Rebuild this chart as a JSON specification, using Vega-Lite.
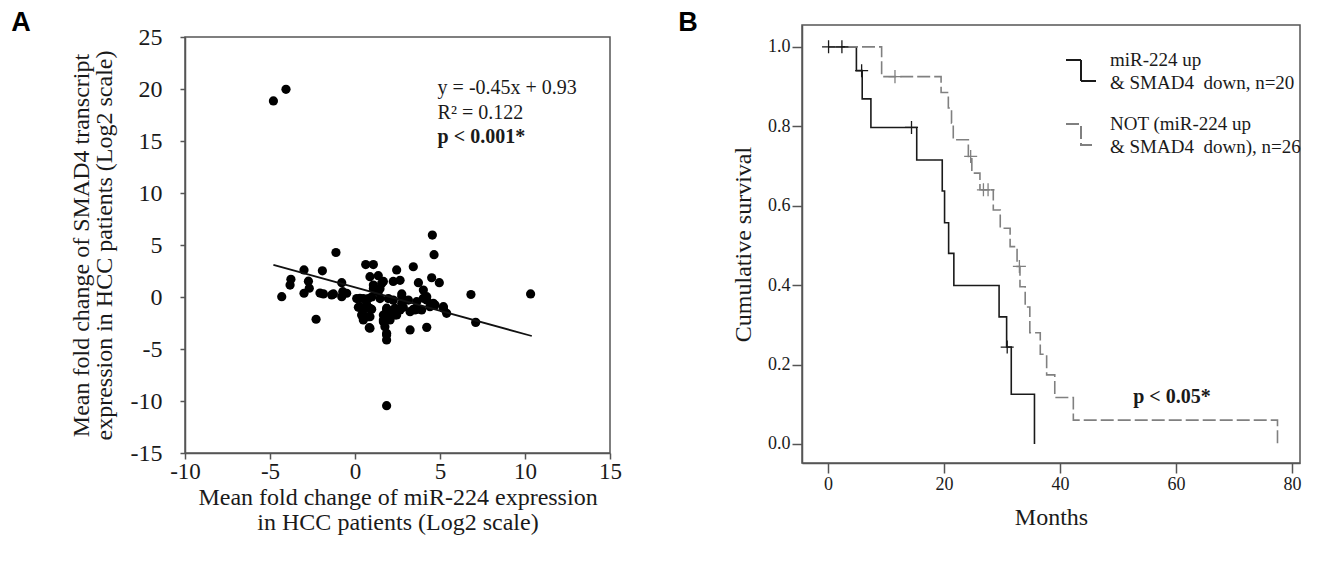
{
  "$schema": "https://vega.github.io/schema/vega-lite/v6.json",
  "background": "white",
  "width": 1318,
  "height": 565,
  "padding": 0,
  "autosize": {"type": "none"},
  "config": {
    "font": "Liberation Serif",
    "view": {"stroke": null},
    "axis": {"grid": false, "labelFlush": false, "domainColor": "#555", "domainWidth": 1.5, "tickColor": "#555", "tickWidth": 1.5, "labelColor": "#1a1a1a", "titleColor": "#1a1a1a", "labelFont": "Liberation Serif", "titleFont": "Liberation Serif", "titleFontWeight": "normal"},
    "style": {"guide-label": {"lineHeight": 23}}
  },
  "datasets": {
    "scatter": [
      {"x": -4.8, "y": 18.85}, {"x": -4.06, "y": 19.97}, {"x": -1.12, "y": 4.28}, {"x": 4.65, "y": 4.07}, {"x": 4.55, "y": 5.96},
      {"x": 0.63, "y": 3.12}, {"x": 1.08, "y": 3.12}, {"x": 3.43, "y": 2.91}, {"x": -3.0, "y": 2.6}, {"x": -1.92, "y": 2.52},
      {"x": 2.45, "y": 2.6}, {"x": -3.77, "y": 1.7}, {"x": -2.74, "y": 1.52}, {"x": 0.88, "y": 1.95}, {"x": 1.37, "y": 2.05},
      {"x": 4.51, "y": 1.85}, {"x": 3.73, "y": 1.38}, {"x": 4.96, "y": 1.38}, {"x": -0.78, "y": 1.38}, {"x": -3.82, "y": 1.15},
      {"x": 1.67, "y": 1.5}, {"x": 2.25, "y": 1.5}, {"x": 2.65, "y": 1.6}, {"x": -2.69, "y": 0.84}, {"x": 4.02, "y": 0.67},
      {"x": 1.08, "y": 1.15}, {"x": 1.57, "y": 1.31}, {"x": 1.08, "y": 0.8}, {"x": 1.47, "y": 0.8}, {"x": -4.31, "y": 0.03},
      {"x": -3.0, "y": 0.36}, {"x": -2.06, "y": 0.38}, {"x": -1.86, "y": 0.3}, {"x": -1.37, "y": 0.2}, {"x": -1.27, "y": 0.29},
      {"x": -0.78, "y": 0.03}, {"x": -0.49, "y": 0.36}, {"x": -0.72, "y": 0.51}, {"x": 2.75, "y": 0.29}, {"x": 4.22, "y": 0.03},
      {"x": 6.82, "y": 0.24}, {"x": 10.33, "y": 0.29}, {"x": 0.1, "y": -0.15}, {"x": 0.49, "y": -0.15}, {"x": 0.78, "y": -0.15},
      {"x": 0.98, "y": 0.0}, {"x": 1.37, "y": 0.51}, {"x": 0.29, "y": -0.13}, {"x": 0.69, "y": -0.29}, {"x": 1.47, "y": -0.15},
      {"x": 1.96, "y": -0.15}, {"x": 2.25, "y": -0.3}, {"x": 2.75, "y": 0.03}, {"x": 2.75, "y": -0.6}, {"x": 3.14, "y": -0.29},
      {"x": 3.63, "y": -0.45}, {"x": 4.02, "y": -0.13}, {"x": 4.22, "y": -0.29}, {"x": 4.61, "y": -0.6}, {"x": 0.29, "y": -0.93},
      {"x": 0.2, "y": -0.99}, {"x": 0.69, "y": -0.77}, {"x": 0.49, "y": -1.25}, {"x": 0.88, "y": -1.09}, {"x": 0.98, "y": -1.18},
      {"x": 4.71, "y": -0.77}, {"x": 5.2, "y": -0.93}, {"x": 5.2, "y": -1.08}, {"x": 5.39, "y": -1.57}, {"x": 1.86, "y": -1.08},
      {"x": 1.86, "y": -1.25}, {"x": 2.25, "y": -1.25}, {"x": 2.35, "y": -1.09}, {"x": 2.65, "y": -1.25}, {"x": 2.84, "y": -0.99},
      {"x": 3.24, "y": -1.41}, {"x": 3.43, "y": -1.18}, {"x": 3.53, "y": -1.25}, {"x": 3.82, "y": -1.18}, {"x": 3.92, "y": -1.25},
      {"x": 4.41, "y": -0.93}, {"x": 0.39, "y": -1.73}, {"x": 0.78, "y": -1.89}, {"x": 0.49, "y": -2.05}, {"x": 0.88, "y": -1.89},
      {"x": 1.67, "y": -1.73}, {"x": 1.96, "y": -1.89}, {"x": 2.06, "y": -1.89}, {"x": 2.35, "y": -1.73}, {"x": 2.45, "y": -1.73},
      {"x": -2.29, "y": -2.14}, {"x": 0.49, "y": -2.21}, {"x": 1.67, "y": -2.21}, {"x": 1.67, "y": -2.38}, {"x": 2.06, "y": -2.21},
      {"x": 7.1, "y": -2.44}, {"x": 0.84, "y": -2.95}, {"x": 0.88, "y": -3.0}, {"x": 1.76, "y": -2.86}, {"x": 3.24, "y": -3.17},
      {"x": 4.22, "y": -2.92}, {"x": 1.86, "y": -3.49}, {"x": 1.86, "y": -3.65}, {"x": 1.86, "y": -4.13}, {"x": 1.86, "y": -10.45}
    ],
    "fit": [{"x": -4.8, "y": 3.09}, {"x": 10.4, "y": -3.75}],
    "notes": [
      {"x": 4.86, "y": 20.1, "label": "y = -0.45x + 0.93", "kind": "plain"},
      {"x": 4.86, "y": 17.7, "label": "R² = 0.122", "kind": "plain"},
      {"x": 4.86, "y": 15.4, "label": "p < 0.001*", "kind": "bold"}
    ],
    "km": [
      {"g": "A", "t": 0, "s": 1.0}, {"g": "A", "t": 4.9, "s": 0.94}, {"g": "A", "t": 5.9, "s": 0.869}, {"g": "A", "t": 7.4, "s": 0.797},
      {"g": "A", "t": 15.3, "s": 0.715}, {"g": "A", "t": 19.7, "s": 0.637}, {"g": "A", "t": 20.1, "s": 0.557}, {"g": "A", "t": 20.8, "s": 0.48},
      {"g": "A", "t": 21.7, "s": 0.399}, {"g": "A", "t": 29.5, "s": 0.32}, {"g": "A", "t": 30.8, "s": 0.244}, {"g": "A", "t": 31.6, "s": 0.125},
      {"g": "A", "t": 35.6, "s": 0.0},
      {"g": "B", "t": 0, "s": 1.0}, {"g": "B", "t": 9.25, "s": 0.925}, {"g": "B", "t": 19.5, "s": 0.885}, {"g": "B", "t": 20.75, "s": 0.846},
      {"g": "B", "t": 21.3, "s": 0.808}, {"g": "B", "t": 21.6, "s": 0.766}, {"g": "B", "t": 24.2, "s": 0.724}, {"g": "B", "t": 24.8, "s": 0.682},
      {"g": "B", "t": 26.2, "s": 0.64}, {"g": "B", "t": 28.5, "s": 0.589}, {"g": "B", "t": 29.7, "s": 0.543}, {"g": "B", "t": 31.4, "s": 0.497},
      {"g": "B", "t": 32.6, "s": 0.447}, {"g": "B", "t": 33.1, "s": 0.396}, {"g": "B", "t": 34.0, "s": 0.345}, {"g": "B", "t": 34.8, "s": 0.28},
      {"g": "B", "t": 36.6, "s": 0.226}, {"g": "B", "t": 37.7, "s": 0.174}, {"g": "B", "t": 39.1, "s": 0.117}, {"g": "B", "t": 42.3, "s": 0.06},
      {"g": "B", "t": 77.5, "s": 0.0}
    ],
    "censor": [
      {"g": "A", "t": 0.1, "s": 1.0}, {"g": "A", "t": 2.4, "s": 1.0}, {"g": "A", "t": 5.8, "s": 0.94}, {"g": "A", "t": 14.4, "s": 0.797}, {"g": "A", "t": 30.9, "s": 0.244},
      {"g": "B", "t": 11.55, "s": 0.925}, {"g": "B", "t": 24.6, "s": 0.724}, {"g": "B", "t": 26.8, "s": 0.64}, {"g": "B", "t": 27.6, "s": 0.64}, {"g": "B", "t": 33.0, "s": 0.447}
    ],
    "pnote": [{"t": 59.3, "s": 0.119, "label": "p < 0.05*"}],
    "one": [{"k": 1}]
  },
  "layer": [
    {
      "layer": [
        {
          "data": {"name": "one"},
          "mark": {"type": "rect", "filled": false, "stroke": "#555", "strokeWidth": 1.5},
          "encoding": {
            "x": {"datum": -10, "type": "quantitative", "scale": {"domain": [-10, 15], "range": [185, 610], "nice": false, "zero": false},
              "axis": {"orient": "bottom", "offset": -112, "values": [-10, -5, 0, 5, 10, 15], "labelExpr": "toString(datum.value)", "tickSize": 6, "labelFontSize": 23, "labelPadding": 1, "titleFontSize": 24, "titleLineHeight": 25, "titlePadding": 2,
                "title": ["Mean fold change of miR-224 expression", "in HCC patients (Log2 scale)"]}},
            "x2": {"datum": 15},
            "y": {"datum": -15, "type": "quantitative", "scale": {"domain": [-15, 25], "range": [453, 37], "nice": false, "zero": false},
              "axis": {"orient": "left", "offset": -185, "values": [-15, -10, -5, 0, 5, 10, 15, 20, 25], "labelExpr": "toString(datum.value)", "tickSize": 5, "labelFontSize": 24, "labelPadding": 18, "titleFontSize": 24, "titleLineHeight": 23, "titlePadding": 14,
                "title": ["Mean fold change of SMAD4 transcript", "expression in HCC patients (Log2 scale)"]}},
            "y2": {"datum": 25}
          }
        },
        {
          "data": {"name": "scatter"},
          "mark": {"type": "circle", "color": "#000", "opacity": 1, "size": 85},
          "encoding": {
            "x": {"field": "x", "type": "quantitative", "scale": {"domain": [-10, 15], "range": [185, 610], "nice": false, "zero": false}},
            "y": {"field": "y", "type": "quantitative", "scale": {"domain": [-15, 25], "range": [453, 37], "nice": false, "zero": false}}
          }
        },
        {
          "data": {"name": "fit"},
          "mark": {"type": "line", "color": "#111", "strokeWidth": 1.8},
          "encoding": {
            "x": {"field": "x", "type": "quantitative", "scale": {"domain": [-10, 15], "range": [185, 610], "nice": false, "zero": false}},
            "y": {"field": "y", "type": "quantitative", "scale": {"domain": [-15, 25], "range": [453, 37], "nice": false, "zero": false}}
          }
        },
        {
          "data": {"name": "notes"},
          "transform": [{"filter": "datum.kind == 'plain'"}],
          "mark": {"type": "text", "align": "left", "baseline": "middle", "fontSize": 20, "color": "#1a1a1a"},
          "encoding": {
            "x": {"field": "x", "type": "quantitative", "scale": {"domain": [-10, 15], "range": [185, 610], "nice": false, "zero": false}},
            "y": {"field": "y", "type": "quantitative", "scale": {"domain": [-15, 25], "range": [453, 37], "nice": false, "zero": false}},
            "text": {"field": "label"}
          }
        },
        {
          "data": {"name": "notes"},
          "transform": [{"filter": "datum.kind == 'bold'"}],
          "mark": {"type": "text", "align": "left", "baseline": "middle", "fontSize": 20, "fontWeight": "bold", "color": "#1a1a1a"},
          "encoding": {
            "x": {"field": "x", "type": "quantitative", "scale": {"domain": [-10, 15], "range": [185, 610], "nice": false, "zero": false}},
            "y": {"field": "y", "type": "quantitative", "scale": {"domain": [-15, 25], "range": [453, 37], "nice": false, "zero": false}},
            "text": {"field": "label"}
          }
        },
        {
          "data": {"name": "one"},
          "mark": {"type": "text", "align": "center", "baseline": "middle", "font": "Liberation Sans", "fontSize": 27, "fontWeight": "bold", "color": "#000"},
          "encoding": {
            "x": {"datum": -19.65, "type": "quantitative", "scale": {"domain": [-10, 15], "range": [185, 610], "nice": false, "zero": false}},
            "y": {"datum": 26.35, "type": "quantitative", "scale": {"domain": [-15, 25], "range": [453, 37], "nice": false, "zero": false}},
            "text": {"value": "A"}
          }
        }
      ]
    },
    {
      "layer": [
        {
          "data": {"name": "one"},
          "mark": {"type": "rect", "filled": false, "stroke": "#555", "strokeWidth": 1.5},
          "encoding": {
            "x": {"datum": -4.48, "type": "quantitative", "scale": {"domain": [-4.48, 81.38], "range": [802, 1300], "nice": false, "zero": false},
              "axis": {"orient": "bottom", "offset": -102, "values": [0, 20, 40, 60, 80], "tickSize": 10, "labelFontSize": 18, "labelPadding": 2, "titleFontSize": 24, "titlePadding": 12, "title": "Months"}},
            "x2": {"datum": 81.38},
            "y": {"datum": -0.048, "type": "quantitative", "scale": {"domain": [-0.048, 1.055], "range": [463, 25], "nice": false, "zero": false},
              "axis": {"orient": "left", "offset": -802, "values": [0, 0.2, 0.4, 0.6, 0.8, 1.0], "format": ".1f", "tickSize": 10, "labelFontSize": 18, "labelPadding": 2, "titleFontSize": 24, "titlePadding": 12, "title": "Cumulative survival"}},
            "y2": {"datum": 1.055}
          }
        },
        {
          "data": {"name": "km"},
          "mark": {"type": "line", "interpolate": "step-after", "strokeWidth": 1.6},
          "encoding": {
            "x": {"field": "t", "type": "quantitative", "scale": {"domain": [-4.48, 81.38], "range": [802, 1300], "nice": false, "zero": false}},
            "y": {"field": "s", "type": "quantitative", "scale": {"domain": [-0.048, 1.055], "range": [463, 25], "nice": false, "zero": false}},
            "color": {"field": "g", "type": "nominal", "scale": {"domain": ["A", "B"], "range": ["#1a1a1a", "#808080"]},
              "legend": {"orient": "none", "legendX": 1065, "legendY": 44, "title": null, "symbolType": "M-1,0H0V1.4H1", "symbolSize": 900, "symbolStrokeWidth": 2,
                "labelFont": "Liberation Serif", "labelFontSize": 19, "labelColor": "#1a1a1a", "labelLimit": 0, "rowPadding": 15, "labelOffset": 13, "padding": 0,
                "labelExpr": "datum.value == 'A' ? ['miR-224 up', '& SMAD4\u00a0 down, n=20'] : ['NOT (miR-224 up', '& SMAD4\u00a0 down), n=26']"}},
            "strokeDash": {"field": "g", "type": "nominal", "scale": {"domain": ["A", "B"], "range": [[1, 0], [13, 4]]},
              "legend": {"orient": "none", "legendX": 1065, "legendY": 44, "title": null, "symbolType": "M-1,0H0V1.4H1", "symbolSize": 900, "symbolStrokeWidth": 2,
                "labelFont": "Liberation Serif", "labelFontSize": 19, "labelColor": "#1a1a1a", "labelLimit": 0, "rowPadding": 15, "labelOffset": 13, "padding": 0,
                "labelExpr": "datum.value == 'A' ? ['miR-224 up', '& SMAD4\u00a0 down, n=20'] : ['NOT (miR-224 up', '& SMAD4\u00a0 down), n=26']"}}
          }
        },
        {
          "data": {"name": "censor"},
          "mark": {"type": "point", "shape": "M-1,0H1M0,-1V1", "filled": false, "size": 170, "strokeWidth": 1.3, "opacity": 1},
          "encoding": {
            "x": {"field": "t", "type": "quantitative", "scale": {"domain": [-4.48, 81.38], "range": [802, 1300], "nice": false, "zero": false}},
            "y": {"field": "s", "type": "quantitative", "scale": {"domain": [-0.048, 1.055], "range": [463, 25], "nice": false, "zero": false}},
            "color": {"field": "g", "type": "nominal", "legend": null}
          }
        },
        {
          "data": {"name": "pnote"},
          "mark": {"type": "text", "align": "center", "baseline": "middle", "fontSize": 20, "fontWeight": "bold", "color": "#1a1a1a"},
          "encoding": {
            "x": {"field": "t", "type": "quantitative", "scale": {"domain": [-4.48, 81.38], "range": [802, 1300], "nice": false, "zero": false}},
            "y": {"field": "s", "type": "quantitative", "scale": {"domain": [-0.048, 1.055], "range": [463, 25], "nice": false, "zero": false}},
            "text": {"field": "label"}
          }
        },
        {
          "data": {"name": "one"},
          "mark": {"type": "text", "align": "center", "baseline": "middle", "font": "Liberation Sans", "fontSize": 27, "fontWeight": "bold", "color": "#000"},
          "encoding": {
            "x": {"datum": -24.14, "type": "quantitative", "scale": {"domain": [-4.48, 81.38], "range": [802, 1300], "nice": false, "zero": false}},
            "y": {"datum": 1.0605, "type": "quantitative", "scale": {"domain": [-0.048, 1.055], "range": [463, 25], "nice": false, "zero": false}},
            "text": {"value": "B"}
          }
        }
      ]
    }
  ],
  "resolve": {"scale": {"x": "independent", "y": "independent", "color": "independent", "strokeDash": "independent"}, "axis": {"x": "independent", "y": "independent"}}
}
